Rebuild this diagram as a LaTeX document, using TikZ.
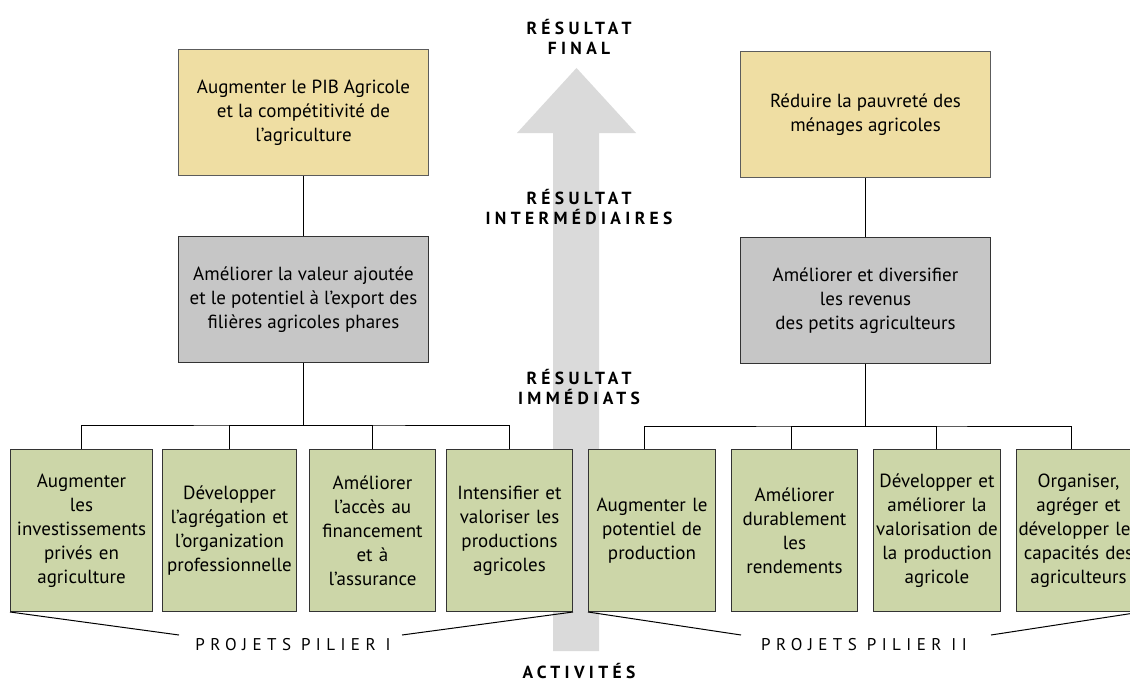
\documentclass[tikz,border=0pt]{standalone}
\usepackage{fontspec}
\setmainfont{PT Sans}
\newfontfamily\stagefont[LetterSpace=25]{PT Sans}
\newfontfamily\projfont[LetterSpace=32]{PT Sans}
\definecolor{goalfill}{HTML}{EFDEA3}
\definecolor{midfill}{HTML}{C6C6C6}
\definecolor{leaffill}{HTML}{CCD6A8}
\definecolor{arrowgray}{HTML}{DADADA}
\definecolor{boxline}{HTML}{333333}
\newcommand\bodytext{\fontsize{19}{24}\selectfont}
\newcommand\stagetext{\stagefont\bfseries\fontsize{17.5}{20.5}\selectfont}
\newcommand\projtext{\projfont\fontsize{17}{18}\selectfont}
\begin{document}
\begin{tikzpicture}[x=1pt,y=-1pt,
  goal/.style={draw=boxline!80, fill=goalfill, line width=1pt, minimum width=250pt, minimum height=126pt, anchor=north west, align=center, inner sep=0pt, font=\bodytext},
  mid/.style={draw=boxline, fill=midfill, line width=1pt, minimum width=250pt, minimum height=126pt, anchor=north west, align=center, inner sep=0pt, font=\bodytext},
  leaf/.style={draw=boxline, fill=leaffill, line width=1pt, minimum height=162pt, anchor=north west, align=center, inner sep=0pt, font=\bodytext},
  stage/.style={align=center, font=\stagetext, inner sep=0pt},
  proj/.style={font=\projtext, inner sep=0pt},
  conn/.style={draw=black, line width=1pt}]
\useasboundingbox (0,0) rectangle (1130,693);
\clip (0,0) rectangle (1130,693);
\fill[white] (0,0) rectangle (1130,693);
% big arrow
\fill[arrowgray] (553,651) -- (553,133) -- (517,133) -- (576.5,68) -- (636,133) -- (599,133) -- (599,651) -- cycle;
% stage labels
\node[stage] (s1) at (579,37) {RÉSULTAT\\FINAL};
\node[stage] (s2) at (579,207) {RÉSULTAT\\INTERMÉDIAIRES};
\node[stage] (s3) at (579,387) {RÉSULTAT\\IMMÉDIATS};
\node[stage] (s4) at (579,671) {ACTIVITÉS};
% goal boxes
\node[goal] (g1) at (178,49) {Augmenter le PIB Agricole\\et la compétitivité de\\l’agriculture};
\node[goal] (g2) at (740,51) {Réduire la pauvreté des\\ménages agricoles};
% intermediate boxes
\node[mid] (m1) at (178,236) {Améliorer la valeur ajoutée\\et le potentiel à l’export des\\filières agricoles phares};
\node[mid] (m2) at (740,237) {Améliorer et diversifier\\les revenus\\des petits agriculteurs};
% leaf boxes
\node[leaf, minimum width=142pt, text width=140pt] (b1) at (10,449) {Augmenter\\les\\investissements\\privés en\\agriculture};
\node[leaf, minimum width=134pt, text width=132pt] (b2) at (162,449) {Développer\\l’agrégation et\\l’organization\\professionnelle};
\node[leaf, minimum width=126pt, text width=124pt] (b3) at (309,449) {Améliorer\\l’accès au\\financement\\et à\\l’assurance};
\node[leaf, minimum width=126pt, text width=124pt] (b4) at (446,449) {Intensifier et\\valoriser les\\productions\\agricoles};
\node[leaf, minimum width=127pt, text width=125pt] (b5) at (588,449) {Augmenter le\\potentiel de\\production};
\node[leaf, minimum width=126pt, text width=124pt] (b6) at (731,449) {Améliorer\\durablement\\les\\rendements};
\node[leaf, minimum width=127pt, text width=125pt] (b7) at (873,449) {Développer et\\améliorer la\\valorisation de\\la production\\agricole};
\node[leaf, minimum width=124pt, text width=122pt] (b8) at (1016,449) {Organiser,\\agréger et\\développer les\\capacités des\\agriculteurs};
% connectors top
\draw[conn] (g1.south) -- (m1.north);
\draw[conn] (g2.south) -- (m2.north);
% bus left
\path (m1.south) ++(0,62) coordinate (busL);
\draw[conn] (m1.south) -- (busL);
\draw[conn] (b1.north) |- (busL) -| (b4.north);
\draw[conn] (b2.north) |- (busL);
\draw[conn] (b3.north) |- (busL);
% bus right
\path (m2.south) ++(0,62) coordinate (busR);
\draw[conn] (m2.south) -- (busR);
\draw[conn] ([xshift=-8pt]b5.north) |- (busR) -| ([xshift=-7pt]b8.north);
\draw[conn] ([xshift=-3pt]b6.north) |- (busR);
\draw[conn] ([xshift=-1pt]b7.north) |- (busR);
% projects
\node[proj] (p1) at (293,645) {PROJETS PILIER I};
\node[proj] (p2) at (864,645) {PROJETS PILIER II};
\coordinate (p1l) at (179,635);
\coordinate (p1r) at (402,635);
\coordinate (p2l) at (741,635);
\coordinate (p2r) at (991,635);
\draw[conn] (b1.south west) -- (p1l);
\draw[conn] (p1r) -- (b4.south east);
\draw[conn] (b5.south west) -- (p2l);
\draw[conn] (p2r) -- (b8.south east);
\end{tikzpicture}
\end{document}
